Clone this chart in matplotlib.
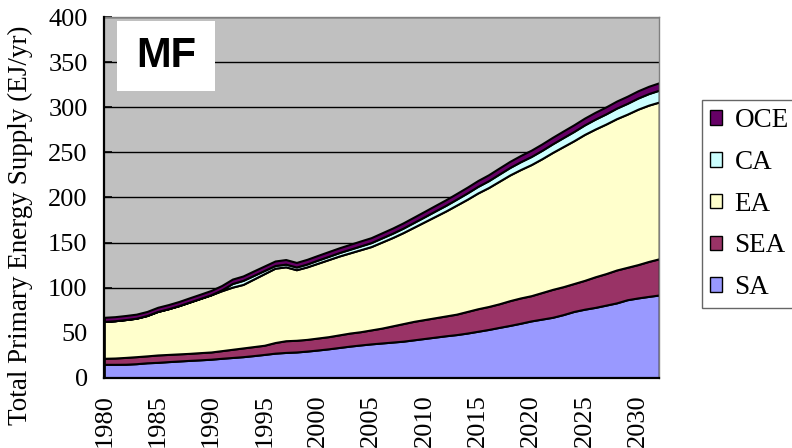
import matplotlib
matplotlib.use("Agg")
import matplotlib.pyplot as plt
from matplotlib.patches import Patch, Rectangle
import numpy as np

years = list(range(1980, 2033))

SA = [14.8, 14.8, 14.9, 15.5, 16.5, 17.0, 17.8, 18.5, 19.2, 19.8,
      20.5, 21.5, 22.4, 23.3, 24.5, 25.8, 27.2, 28.0, 28.5, 29.5,
      30.7, 32.0, 33.5, 35.0, 36.3, 37.5, 38.5, 39.5, 40.5, 42.0,
      43.5, 45.0, 46.5, 47.8, 49.5, 51.5, 53.5, 55.8, 58.0, 60.4,
      63.0, 65.0, 67.0, 70.0, 73.5, 76.0, 78.0, 80.5, 83.0, 86.5,
      88.5, 90.2, 91.8]

SEA = [6.7, 7.0, 7.6, 7.8, 7.7, 8.2, 8.0, 7.9, 7.8, 8.0,
       8.0, 8.5, 9.1, 9.7, 10.0, 10.2, 11.8, 13.0, 13.0, 13.0,
       13.3, 13.5, 14.0, 14.5, 14.7, 15.5, 16.5, 18.0, 19.5, 20.5,
       21.0, 21.5, 22.0, 22.7, 24.0, 25.0, 25.5, 26.2, 27.5, 28.1,
       28.0, 29.5, 31.0, 31.0, 31.0, 32.0, 34.0, 35.0, 36.5, 36.0,
       37.0, 38.8, 40.2]

EA = [41.0, 41.4, 42.0, 42.7, 44.8, 48.3, 50.7, 53.6, 57.0, 60.2,
      63.5, 66.5, 69.0, 70.5, 75.0, 79.5, 82.5, 82.0, 78.3, 80.5,
      83.0, 85.5, 87.5, 89.0, 91.0, 92.5, 95.5, 98.0, 101.0, 104.5,
      108.5, 112.5, 116.5, 121.0, 124.5, 128.5, 132.0, 136.0, 139.5, 142.5,
      145.5, 148.5, 152.0, 155.5, 158.5, 162.0, 164.0, 166.0, 168.0, 170.0,
      172.5, 173.5, 174.0]

CA = [0.0, 0.0, 0.0, 0.0, 0.0, 0.0, 0.0, 0.0, 0.0, 0.0,
      0.0, 1.0, 4.0, 4.5, 4.0, 3.5, 3.0, 3.0, 3.0, 3.2,
      3.5, 3.6, 3.8, 4.0, 4.2, 4.4, 4.6, 4.8, 5.0, 5.3,
      5.6, 6.0, 6.3, 6.6, 7.0, 7.3, 7.6, 8.0, 8.3, 8.7,
      9.0, 9.3, 9.6, 10.0, 10.3, 10.6, 11.0, 11.3, 11.7, 12.0,
      12.4, 12.8, 13.2]

OCE = [4.5, 4.5, 4.5, 4.5, 4.5, 4.6, 4.6, 4.6, 4.7, 4.7,
       4.8, 4.8, 4.9, 4.9, 5.0, 5.0, 5.0, 5.1, 5.1, 5.2,
       5.2, 5.3, 5.3, 5.4, 5.5, 5.5, 5.6, 5.7, 5.8, 5.9,
       6.0, 6.1, 6.2, 6.3, 6.4, 6.5, 6.6, 6.7, 6.8, 6.9,
       7.0, 7.1, 7.2, 7.3, 7.4, 7.5, 7.6, 7.7, 7.8, 7.9,
       8.0, 8.1, 8.2]

series_names = ["SA", "SEA", "EA", "CA", "OCE"]
series_colors = ["#9999FF", "#993366", "#FFFFCC", "#CCFFFF", "#660066"]
xtick_years = list(range(1980, 2031, 5))
yticks = list(range(0, 401, 50))

serif = ["Liberation Serif", "DejaVu Serif"]

fig = plt.figure(figsize=(7.92, 4.48), dpi=100)
ax = fig.add_axes([0.1317, 0.157, 0.7007, 0.8044])
ax.set_facecolor("#C0C0C0")

ax.set_axisbelow(True)
ax.yaxis.grid(True, color="black", linewidth=1.0)

ax.stackplot(years, SA, SEA, EA, CA, OCE, colors=series_colors,
             edgecolor="black", linewidth=1.5, labels=series_names, zorder=2)

ax.set_xlim(years[0], years[-1])
ax.set_ylim(0, 400)
ax.set_xticks(xtick_years)
ax.set_xticklabels([str(y) for y in xtick_years], rotation=90, fontfamily=serif, fontsize=19)
ax.set_yticks(yticks)
ax.set_yticklabels([str(v) for v in yticks], fontfamily=serif, fontsize=19)
ax.tick_params(axis="x", direction="in", length=6, width=1.2, pad=12)
ax.tick_params(axis="y", direction="in", length=6, width=1.2, pad=12)
for t in ax.get_xticklines() + ax.get_yticklines():
    t.set_zorder(5)

ax.set_ylabel("Total Primary Energy Supply (EJ/yr)", fontfamily=serif, fontsize=19.5)
ax.yaxis.set_label_coords(-0.128, 0.424)

for s in ["left", "bottom"]:
    ax.spines[s].set_color("black")
    ax.spines[s].set_linewidth(1.6)
    ax.spines[s].set_zorder(6)
for s in ["right", "top"]:
    ax.spines[s].set_color("#808080")
    ax.spines[s].set_linewidth(1.0)

# MF label box
ax.add_patch(Rectangle((0.0229, 0.7955), 0.1766, 0.1942, transform=ax.transAxes,
                       facecolor="white", edgecolor="none", zorder=7))
ax.text(0.111, 0.893, "MF", transform=ax.transAxes, ha="center", va="center",
        fontfamily=["Liberation Sans", "DejaVu Sans"], fontweight="bold", fontsize=30,
        zorder=8)

handles = [Patch(facecolor=c, edgecolor="black", linewidth=1.0) for c in series_colors]
leg = fig.legend(handles[::-1], series_names[::-1], loc="upper left",
                 bbox_to_anchor=(702 / 792, 1 - 100 / 448), frameon=True, fancybox=False,
                 edgecolor="#404040", prop={"family": serif, "size": 19.5},
                 handlelength=0.45, handleheight=0.45, handletextpad=0.45,
                 labelspacing=0.62, borderpad=0.3, borderaxespad=0)
leg.get_frame().set_linewidth(1.0)

fig.savefig("out.png", dpi=100)
